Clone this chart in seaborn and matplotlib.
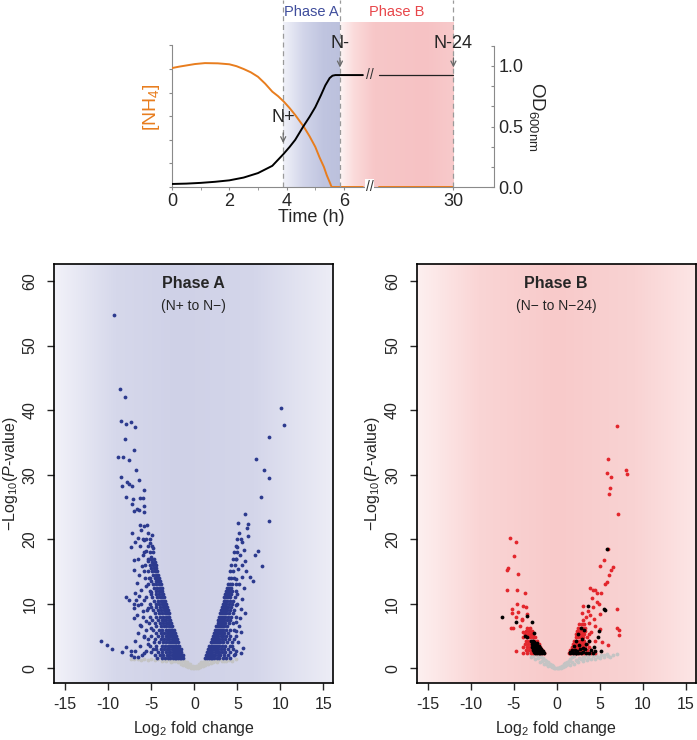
import numpy as np
import pandas as pd
import matplotlib
matplotlib.use("Agg")
import matplotlib.pyplot as plt
import seaborn as sns
from matplotlib.colors import to_rgb

sns.set_style("ticks")
plt.rcParams['font.family'] = ['Liberation Sans', 'DejaVu Sans']
plt.rcParams['mathtext.fontset'] = 'custom'
plt.rcParams['mathtext.rm'] = 'Liberation Sans'
plt.rcParams['mathtext.it'] = 'Liberation Sans:italic'
plt.rcParams['mathtext.bf'] = 'Liberation Sans:bold'
plt.rcParams['axes.unicode_minus'] = False

# ---------------- top panel data ----------------
time_nh4 = [0, 0.25, 0.5, 0.8, 1.15, 1.6, 2.0, 2.25, 2.5, 2.75, 3.0, 3.25, 3.5, 3.7, 3.9,
            4.1, 4.3, 4.45, 4.6, 4.8, 5.0, 5.15, 5.3, 5.4, 5.5, 5.57, 6.66]
nh4 = [5.04, 5.1, 5.15, 5.21, 5.25, 5.24, 5.2, 5.12, 5.0, 4.86, 4.67, 4.38, 4.04, 3.85, 3.62,
       3.35, 3.05, 2.8, 2.55, 2.15, 1.7, 1.25, 0.85, 0.5, 0.21, 0.0, 0.0]
time_nh4_late = [9.43, 30]
nh4_late = [0.0, 0.0]
time_od = [0, 0.5, 1, 1.5, 2, 2.5, 3, 3.5, 3.88, 4.1, 4.3, 4.58, 4.8, 5.0, 5.2, 5.35, 5.5, 5.6, 5.7, 6.66]
od = [0.025, 0.028, 0.034, 0.043, 0.055, 0.078, 0.115, 0.175, 0.27, 0.33, 0.39, 0.5, 0.58, 0.66,
      0.76, 0.84, 0.9, 0.92, 0.925, 0.925]
time_od_late = [9.43, 30]
od_late = [0.925, 0.925]
sample_names = ['N+', 'N-', 'N-24']
sample_times = [3.88, 5.86, 30]
time_ticks = [0, 2, 4, 6, 30]
time_minor_ticks = [1, 3, 5]
od_tick_labels = ['0.0', '', '', '0.5', '', '', '1.0', '']

# ---------------- volcano data ----------------
phaseA_left_rows = [
    (1.6, [-1.3, -1.5, -1.7, -1.9, -2.1, -2.3, -2.5, -2.8, -3.1, -3.4, -3.8, -4.3]),
    (2.0, [-1.35, -1.55, -1.75, -1.95, -2.15, -2.4, -2.6, -2.9, -3.2, -3.6, -4.0, -4.6]),
    (2.5, [-1.5, -1.7, -1.9, -2.1, -2.3, -2.5, -2.8, -3.0, -3.3, -3.7, -4.2, -5.0]),
    (3.0, [-1.6, -1.8, -2.0, -2.2, -2.4, -2.6, -2.9, -3.2, -3.5, -3.9, -4.5]),
    (3.5, [-1.75, -1.95, -2.15, -2.35, -2.6, -2.8, -3.1, -3.4, -3.8, -4.4, -5.2]),
    (4.0, [-1.9, -2.1, -2.3, -2.5, -2.7, -3.0, -3.3, -3.6, -4.1, -4.7]),
    (4.5, [-2.0, -2.2, -2.4, -2.65, -2.9, -3.2, -3.5, -3.9, -4.6, -5.4]),
    (5.0, [-2.15, -2.35, -2.55, -2.8, -3.05, -3.3, -3.7, -4.2, -5.0, -5.9]),
    (5.5, [-2.3, -2.5, -2.7, -2.95, -3.2, -3.5, -3.9, -4.5]),
    (6.0, [-2.4, -2.6, -2.85, -3.1, -3.35, -3.7, -4.1, -4.8, -5.6]),
    (6.5, [-2.55, -2.75, -3.0, -3.25, -3.5, -3.9, -4.4]),
    (7.0, [-2.7, -2.9, -3.1, -3.35, -3.65, -4.0, -4.6, -5.3]),
    (7.5, [-2.8, -3.0, -3.25, -3.5, -3.8, -4.2, -4.9]),
    (8.0, [-2.9, -3.1, -3.35, -3.6, -3.95, -4.4, -5.1, -6.0]),
    (8.5, [-3.0, -3.2, -3.45, -3.75, -4.1, -4.6]),
    (9.0, [-3.1, -3.3, -3.55, -3.85, -4.2, -4.8, -5.5]),
    (9.5, [-3.2, -3.4, -3.65, -4.0, -4.4, -5.0]),
    (10.0, [-3.3, -3.5, -3.75, -4.1, -4.5, -5.2, -6.2]),
    (10.5, [-3.4, -3.6, -3.85, -4.2, -4.7]),
    (11.0, [-3.5, -3.7, -3.95, -4.3, -4.9, -5.6]),
    (11.5, [-3.6, -3.8, -4.05, -4.4, -5.0]),
    (12.0, [-3.7, -3.9, -4.15, -4.5, -5.2]),
    (12.5, [-3.8, -4.0, -4.3, -4.7]),
    (13.0, [-3.9, -4.1, -4.4, -4.8, -5.4]),
    (13.5, [-4.0, -4.2, -4.5, -5.0]),
    (14.0, [-4.1, -4.3, -4.6, -5.1, -5.7]),
    (14.5, [-4.2, -4.45, -4.8]),
    (15.0, [-4.3, -4.55, -4.9, -5.4]),
    (15.5, [-4.4, -4.65, -5.0]),
    (16.0, [-4.5, -4.75, -5.1, -5.7]),
    (16.5, [-4.6, -4.9]),
    (17.0, [-4.65, -5.0, -5.4]),
    (18.0, [-4.8, -5.2, -5.8]),
    (19.0, [-4.95, -5.4]),
    (20.0, [-5.1, -5.6, -6.0]),
]
phaseA_right_rows = [
    (1.6, [1.3, 1.5, 1.7, 1.9, 2.1, 2.3, 2.6, 2.9, 3.3, 3.7, 4.2]),
    (2.0, [1.35, 1.55, 1.75, 1.95, 2.2, 2.45, 2.7, 3.0, 3.4, 3.9, 4.6]),
    (2.5, [1.5, 1.7, 1.9, 2.1, 2.35, 2.6, 2.9, 3.2, 3.6, 4.1]),
    (3.0, [1.6, 1.8, 2.0, 2.25, 2.5, 2.75, 3.05, 3.4, 3.9, 4.5]),
    (3.5, [1.75, 1.95, 2.15, 2.4, 2.65, 2.9, 3.2, 3.6, 4.2]),
    (4.0, [1.9, 2.1, 2.3, 2.5, 2.75, 3.0, 3.35, 3.8, 4.4]),
    (4.5, [2.0, 2.2, 2.4, 2.65, 2.9, 3.2, 3.55, 4.0]),
    (5.0, [2.15, 2.35, 2.55, 2.8, 3.05, 3.35, 3.7, 4.2, 4.9]),
    (5.5, [2.3, 2.5, 2.7, 2.95, 3.2, 3.5, 3.9]),
    (6.0, [2.4, 2.6, 2.85, 3.1, 3.35, 3.7, 4.1, 4.6]),
    (6.5, [2.55, 2.75, 3.0, 3.25, 3.5, 3.85]),
    (7.0, [2.7, 2.9, 3.1, 3.35, 3.6, 4.0, 4.5]),
    (7.5, [2.8, 3.0, 3.25, 3.5, 3.8, 4.2]),
    (8.0, [2.9, 3.1, 3.35, 3.6, 3.9, 4.3, 4.9]),
    (8.5, [3.0, 3.2, 3.45, 3.7, 4.0, 4.5]),
    (9.0, [3.1, 3.3, 3.55, 3.8, 4.1, 4.6]),
    (9.5, [3.2, 3.4, 3.65, 3.9, 4.3]),
    (10.0, [3.3, 3.5, 3.7, 4.0, 4.4, 5.0]),
    (10.5, [3.4, 3.6, 3.8, 4.1, 4.5]),
    (11.0, [3.5, 3.7, 3.9, 4.2, 4.7]),
    (11.5, [3.6, 3.8, 4.0, 4.3]),
    (12.0, [3.7, 3.9, 4.1, 4.4, 4.9]),
    (12.5, [3.8, 4.0, 4.3]),
    (13.0, [3.9, 4.1, 4.4, 4.8]),
    (14.0, [4.0, 4.3, 4.6]),
    (15.0, [4.2, 4.5]),
    (16.0, [4.3, 4.7]),
    (17.0, [4.5, 4.9]),
    (18.0, [4.6, 5.0]),
    (19.0, [4.8]),
    (20.0, [5.0, 5.4]),
]
phaseA_scatter_x = [-9.38, -8.68, -8.1, -8.5, -7.95, -7.33, -6.94, -8.02, -6.98, -8.88, -8.33, -7.64, -6.74,
                    -8.53, -6.47, -7.83, -7.6, -8.4, -7.29, -5.81, -7.95, -7.09, -6.36, -5.97, -7.2, -6.63,
                    -7.05, -6.4, -5.81, -5.89, -6.3, -5.9, -5.5, -7.2, -6.9, -7.4, -7.05, -7.0, -7.9, -7.6,
                    -6.8, -7.05, -7.05, -6.36, -10.85, -10.2, -9.6, -8.0, -8.4, -7.4, -6.9, -7.4, -7.05,
                    -6.6, -6.1, -5.8,
                    -6.2, -5.4, -4.9, -6.6, -5.8, -5.2, -6.3, -4.8, -5.6, -6.0, -5.0, -6.5, -5.4, -4.7,
                    -6.1, -5.8, -6.4, -5.3, -6.7, -5.6, -6.2, -5.0, -6.4, -5.8, -6.6, -5.4, -6.0, -6.7,
                    -5.6, -6.2, -5.0, -6.5, -5.8, -6.9, -5.4, -6.3, -4.8, -5.6, -7.0, -6.9,
                    10.1, 10.4, 8.68, 7.17, 8.06, 8.68, 7.79, 8.68, 5.85, 5.08, 6.3, 6.1, 5.15, 6.3, 7.36,
                    7.1, 7.9, 6.43, 6.8, 5.35, 4.9, 5.4, 5.7, 4.9, 5.4, 5.5, 5.0, 5.8, 5.3, 4.9, 5.9, 5.6,
                    5.1, 6.0, 5.5, 4.8, 5.2, 5.8, 5.0, 5.6, 4.9, 5.4, 5.9, 4.8, 5.2, 4.6, 5.1, 4.4, 4.7]
phaseA_scatter_y = [54.7, 43.3, 42.0, 38.3, 37.8, 38.2, 37.4, 35.6, 33.8, 32.8, 32.8, 32.2, 30.7,
                    29.6, 29.2, 28.8, 28.5, 28.2, 28.2, 27.6, 26.6, 26.3, 26.4, 26.4, 25.4, 24.7,
                    24.4, 24.6, 25.1, 24.2, 22.2, 22.1, 22.2, 20.9, 19.5, 18.8, 16.8, 15.2, 11.0, 10.6,
                    10.6, 9.3, 7.75, 6.7, 4.2, 3.6, 3.0, 3.3, 2.5, 2.7, 2.7, 2.1, 1.8,
                    1.8, 2.1, 2.3,
                    21.5, 21.0, 20.6, 20.2, 19.8, 19.4, 19.0, 18.6, 18.2, 17.6, 17.2, 17.0, 16.6, 16.2,
                    15.8, 15.0, 14.4, 14.0, 13.2, 12.8, 12.2, 11.8, 11.2, 10.6, 9.8, 9.4, 8.8, 8.2,
                    7.4, 6.6, 6.2, 5.4, 4.8, 4.2, 3.8, 3.4, 3.0, 2.6, 9.9, 11.6,
                    40.4, 37.7, 35.9, 32.5, 30.7, 29.5, 26.6, 22.8, 23.9, 22.5, 22.4, 21.8, 20.9, 20.5, 18.2,
                    17.6, 15.8, 14.1, 13.6, 7.75, 5.8, 5.6, 3.2, 2.6, 2.3, 19.6, 18.8, 18.3, 17.6, 17.0, 16.6, 16.0,
                    15.4, 15.0, 14.2, 13.8, 13.0, 12.4, 11.5, 10.8, 9.8, 9.2, 8.6, 7.2, 6.6, 4.6, 4.0, 3.4, 2.2]
phaseA_gray_x = [0, 0.15, -0.15, 0.3, -0.3, 0.45, -0.45, 0.6, -0.6, 0.75, -0.75, 0.9, -0.9, 1.05, -1.05,
                 1.2, -1.2, 1.3, -1.3, 0.4, -0.4, 0.7, -0.7, 1.0, -1.0, 1.3, -1.3, 1.6, -1.6, 1.9, -1.9,
                 2.2, -2.2, 2.5, -2.5, 2.8, -2.8, 3.1, -3.1, 1.5, -1.5, 1.8, -1.8, 2.1, -2.1, 3.4, -3.4,
                 3.7, -3.8, 4.0, -4.2, 4.4, -4.6, -5.0, -5.4, -5.8, -6.2, -6.6, -7.0, -7.4, 4.8, -0.2,
                 0.2, -0.5, 0.5, -0.8, 0.8, 1.1, -1.1, 2.6, -2.7, 3.2, -3.3]
phaseA_gray_y = [0.05, 0.1, 0.1, 0.2, 0.2, 0.35, 0.35, 0.5, 0.5, 0.65, 0.65, 0.8, 0.8, 1.0, 1.0,
                 1.2, 1.2, 1.4, 1.4, 0.05, 0.05, 0.15, 0.15, 0.3, 0.3, 0.45, 0.5, 0.6, 0.7, 0.8, 0.9,
                 1.0, 1.05, 1.15, 1.2, 1.3, 1.35, 1.4, 1.45, 1.0, 1.1, 1.25, 1.3, 1.4, 1.45, 1.2, 1.3,
                 1.1, 1.2, 1.35, 1.4, 1.2, 1.3, 1.45, 1.3, 1.4, 1.35, 1.45, 1.5, 1.45, 1.45, 0.3,
                 0.3, 0.6, 0.6, 0.95, 0.95, 0.7, 0.75, 0.9, 0.95, 1.1, 1.1]

phaseB_red_rows = [
    (2.3, [-1.5, -1.8, -2.1, -2.4, -2.7, -3.0, -3.4, -3.9, 1.4, 1.7, 2.0, 2.3, 2.6, 2.9, 3.2, 3.6, 4.0, 4.5]),
    (2.8, [-1.7, -2.0, -2.3, -2.6, -2.9, -3.2, -3.6, 1.6, 1.9, 2.2, 2.5, 2.8, 3.1, 3.5, 4.0]),
    (3.3, [-1.9, -2.2, -2.5, -2.8, -3.1, -3.5, -3.9, 1.8, 2.1, 2.4, 2.7, 3.0, 3.3, 3.8]),
    (3.8, [-2.1, -2.4, -2.7, -3.0, -3.3, -3.7, 1.9, 2.2, 2.5, 2.8, 3.1, 3.5]),
    (4.3, [-2.3, -2.6, -2.9, -3.2, -3.6, 2.0, 2.3, 2.6, 2.9, 3.2, 3.7, 4.4]),
    (4.8, [-2.5, -2.8, -3.1, -3.4, -3.9, 2.2, 2.5, 2.8, 3.1, 3.5]),
    (5.3, [-2.7, -3.0, -3.3, -3.7, 2.3, 2.6, 2.9, 3.2, 3.8]),
    (5.8, [-2.9, -3.2, -3.6, 2.4, 2.7, 3.0, 3.3]),
    (6.3, [-3.1, -3.5, 2.5, 2.8, 3.1]),
    (6.8, [2.6, 2.9, 3.2]),
]
phaseB_red_scatter_x = [-5.42, -4.76, -4.92, -5.65, -5.73, -4.49, -5.81, -4.65, -3.72, -4.65, -5.19, -3.91,
                        -3.6, -5.15, -4.72, -4.07, -5.1, -4.3, -4.72, -4.45, -3.45, -4.0, -5.35, -3.9,
                        3.0, 3.4, 2.9, 3.9, 4.3, 3.1, 3.6, 4.1, 4.65, 4.9, 3.9, 4.2, 4.45, 4.65, 5.2, 5.9,
                        5.6, 6.1, 6.6, 6.3, 5.03, 5.54, 6.97, 6.97, 7.2, 7.28, 6.0, 5.3, 5.0, 4.4, 4.0,
                        7.08, 6.08, 6.19, 6.27, 5.88, 6.0, 8.05, 8.17, 6.97, 3.3, 3.7, 4.2, 5.0, 5.95]
phaseB_red_scatter_y = [20.2, 19.5, 17.4, 15.5, 15.2, 14.6, 12.2, 12.2, 11.6, 10.0, 9.25, 9.66,
                        9.5, 8.6, 7.9, 7.6, 6.3, 6.6, 2.7, 8.7, 8.4, 7.5, 6.25, 5.6,
                        7.5, 8.0, 8.5, 8.2, 7.7, 9.7, 8.9, 10.9, 10.3, 10.0, 12.4, 12.1, 12.2, 11.7, 11.6, 13.3,
                        13.1, 14.4, 15.7, 15.2, 15.9, 16.8, 9.25, 6.3, 5.9, 5.2, 3.6, 4.1, 6.1, 6.6, 5.6,
                        23.9, 27.0, 28.0, 29.6, 30.3, 32.5, 30.7, 30.1, 37.6, 6.3, 7.0, 9.5, 8.4, 18.55]
phaseB_black_x = [-1.5, -1.7, -1.9, -2.1, -2.3, -2.5, -1.7, -1.9, -2.1, -2.3, -2.5, -2.7, -1.9, -2.1,
                  -2.3, -2.5, -2.7, -2.9, -2.1, -2.3, -2.5, -2.7, -2.9, -2.3, -2.6, -2.8, -3.0, -3.7,
                  -3.5, -2.6, -2.9, -3.5, -4.72, -6.35, -2.0, -2.2, -2.4, -2.6, -1.6, -1.8,
                  5.88, 5.6, 5.5, 3.6, 4.96, 4.76, 3.2, 1.6, 1.9, 2.2, 2.5, 2.8, 3.1, 3.4, 3.8, 4.2,
                  4.5, 5.2, 1.8, 2.1, 2.4, 2.7, 3.0, 3.3, 2.0, 2.6, 3.4, 2.2, 2.9, 3.7, 2.5, 2.8, 4.3,
                  4.0, 1.5, 2.3]
phaseB_black_y = [2.3, 2.3, 2.3, 2.3, 2.3, 2.4, 2.7, 2.7, 2.7, 2.7, 2.8, 2.8, 3.1, 3.1,
                  3.1, 3.2, 3.2, 3.3, 3.5, 3.5, 3.6, 3.7, 3.8, 3.9, 4.0, 4.2, 4.3, 5.0,
                  4.9, 5.5, 7.1, 8.1, 7.2, 7.9, 2.5, 2.9, 3.4, 2.5, 2.6, 3.0,
                  18.5, 9.0, 9.2, 9.7, 5.8, 4.9, 6.0, 2.3, 2.3, 2.4, 2.3, 2.4, 2.5, 2.3, 2.4, 2.4,
                  2.6, 2.6, 2.8, 2.9, 2.7, 3.0, 3.2, 3.0, 3.4, 3.6, 3.8, 4.3, 4.5, 4.2, 5.3, 6.2, 3.3,
                  2.8, 2.5, 2.3]
phaseB_gray_x = [0, 0.2, -0.2, 0.4, -0.4, 0.6, -0.6, 0.8, -0.8, 1.0, -1.0, 1.2, -1.2, 1.4, -1.4, 1.6,
                 -1.6, 1.8, -1.8, 2.0, -2.0, -2.3, -2.6, -2.9, -3.2, 0.5, -0.5, 1.0, -1.0, 1.5, -1.5,
                 2.0, -2.0, 2.5, -2.5, 3.0, -3.0, 3.5, 4.0, 4.5, 5.0, 5.5, 6.0, 6.5, 7.0, 2.2, 2.6,
                 3.0, 3.4, 3.8, 4.2, 4.6, 5.2, 5.8, 6.2, 1.3, 1.8, 2.8, 3.2, 4.8, 5.5, -1.2, -1.7,
                 -2.2, -2.7, 0.3, -0.3, 0.7, -0.7, 1.1, 2.4, 3.6]
phaseB_gray_y = [0.05, 0.1, 0.1, 0.25, 0.3, 0.4, 0.5, 0.6, 0.7, 0.8, 0.9, 1.0, 1.1, 1.2, 1.35, 1.45,
                 1.55, 1.7, 1.8, 1.9, 2.0, 2.1, 2.2, 2.2, 2.3, 0.1, 0.15, 0.3, 0.4, 0.5, 0.7,
                 0.7, 1.0, 0.9, 1.4, 1.1, 1.7, 1.3, 1.4, 1.5, 1.6, 1.7, 1.9, 2.0, 2.2, 1.3, 1.6,
                 1.8, 2.0, 2.1, 1.9, 2.0, 2.1, 2.2, 1.7, 0.6, 1.0, 1.4, 1.6, 1.8, 2.0, 0.6, 1.2,
                 1.6, 1.9, 0.0, 0.0, 0.2, 0.3, 0.45, 1.1, 1.6]

x_ticks = [-15, -10, -5, 0, 5, 10, 15]
y_ticks = [0, 10, 20, 30, 40, 50, 60]

# ---------------- helpers ----------------
W, H = 697, 740
BRK, K = 6.9, 0.1264


def fwd(t):
    t = np.asarray(t, dtype=float)
    return np.where(t <= BRK, t, BRK + (t - BRK) * K)


def inv(u):
    u = np.asarray(u, dtype=float)
    return np.where(u <= BRK, u, BRK + (u - BRK) / K)


def rows_to_df(rows):
    xs, ys = [], []
    for y, row in rows:
        xs += row
        ys += [y] * len(row)
    return pd.DataFrame({'x': xs, 'y': ys})


def gradient(stops, n=400):
    pos = [p for p, _ in stops]
    rgb = np.array([to_rgb(c) for _, c in stops])
    s = np.linspace(0, 1, n)
    return np.stack([np.interp(s, pos, rgb[:, i]) for i in range(3)], axis=-1)[None, :, :]


def frect(l, t, r, b):
    return [l / W, 1 - b / H, (r - l) / W, (b - t) / H]


fig = plt.figure(figsize=(W / 100, H / 100), dpi=100)

# ---------------- top panel ----------------
rect_top = frect(172, 0, 494, 187)
TMAX = 41.2
OD_TOP = 187 / 121.0
NH_TOP = 187 / 23.6
AXIS_GRAY = '#8a8a8a'

bg = fig.add_axes(rect_top)
bg.set_zorder(0)
bg.axis('off')
shade_top = 165 / 121.0
bg.imshow(gradient([(0, '#f1f2f9'), (0.35, '#d3d6ea'), (0.7, '#c0c5e0'), (1, '#bcc1dd')]),
          extent=(float(fwd(sample_times[0])), float(fwd(sample_times[1])), 0, shade_top),
          aspect='auto', interpolation='bilinear')
bg.imshow(gradient([(0, '#fdf5f5'), (0.12, '#fbdbdb'), (0.3, '#f7c7c8'), (0.75, '#f6c2c4'), (1, '#f8cacb')]),
          extent=(float(fwd(sample_times[1])), float(fwd(sample_times[2])), 0, shade_top),
          aspect='auto', interpolation='bilinear')
bg.set_xlim(0, float(fwd(TMAX)))
bg.set_ylim(0, OD_TOP)

ax_nh = fig.add_axes(rect_top)
ax_nh.set_xscale('function', functions=(fwd, inv))
ax_nh.set_zorder(1)
ax_nh.patch.set_visible(False)
ax_od = ax_nh.twinx()
ax_od.set_zorder(2)
ax_od.patch.set_visible(False)

orange = '#e87d1e'
sns.lineplot(x=time_nh4, y=nh4, ax=ax_nh, color=orange, lw=1.4, sort=False, estimator=None, zorder=3)
sns.lineplot(x=time_nh4_late, y=nh4_late, ax=ax_nh, color=orange, lw=1.4, sort=False, estimator=None, zorder=3)
sns.lineplot(x=time_od, y=od, ax=ax_od, color='black', lw=1.4, sort=False, estimator=None, zorder=3)
sns.lineplot(x=time_od_late, y=od_late, ax=ax_od, color='#222222', lw=0.9, sort=False, estimator=None, zorder=3)

for t in sample_times:
    ax_od.axvline(t, color='#9a9a9a', lw=0.9, ls=(0, (4, 3)), zorder=1)

ax_nh.set_xlim(0, TMAX)
ax_nh.set_ylim(0, NH_TOP)
ax_od.set_ylim(0, OD_TOP)
for a in (ax_nh, ax_od):
    a.spines['top'].set_visible(False)
    a.set_xlabel('')
    a.set_ylabel('')
ax_od.spines['bottom'].set_visible(False)
ax_nh.spines['bottom'].set_color(AXIS_GRAY)
ax_nh.spines['bottom'].set_linewidth(0.8)
ax_nh.spines['right'].set_visible(False)
ax_od.spines['left'].set_visible(False)
ax_nh.spines['left'].set_bounds(0, 6)
ax_nh.spines['left'].set_color(AXIS_GRAY)
ax_nh.spines['left'].set_linewidth(0.8)
ax_od.spines['right'].set_bounds(0, 7 / 6)
ax_od.spines['right'].set_color(AXIS_GRAY)
ax_od.spines['right'].set_linewidth(0.8)
ax_nh.set_yticks(range(0, 7))
ax_nh.set_yticklabels([])
ax_nh.tick_params(axis='y', length=2.5, color=AXIS_GRAY, direction='out')
ax_od.set_yticks([k / 6 for k in range(0, 8)])
ax_od.set_yticklabels(od_tick_labels)
ax_od.tick_params(axis='y', length=2.5, color=AXIS_GRAY, direction='in', labelsize=13, pad=3)
ax_nh.set_xticks(time_ticks)
ax_nh.set_xticklabels([str(t) for t in time_ticks])
ax_nh.set_xticks(time_minor_ticks, minor=True)
ax_nh.tick_params(axis='x', which='both', length=2.5, color=AXIS_GRAY, labelsize=13, pad=1.5,
                  direction='out')
ax_nh.set_xlim(0, TMAX)

# break marks
ax_od.text(BRK, od_late[0], '//', ha='center', va='center', fontsize=10, color='#333333')
ax_od.text(BRK, 0.0, '//', ha='center', va='center', fontsize=10, color='#333333',
           bbox=dict(facecolor='white', edgecolor='none', pad=0.5))

# sample arrows / labels
arrow_kw = dict(arrowstyle='->', color='#6a6a6a', lw=0.9, mutation_scale=9)
ax_od.annotate('', xy=(sample_times[0], 0.34), xytext=(sample_times[0], 0.47), arrowprops=arrow_kw)
ax_od.text(sample_times[0], 0.575, sample_names[0], ha='center', va='center', fontsize=13)
for nm, t in zip(sample_names[1:], sample_times[1:]):
    ax_od.annotate('', xy=(t, 0.965), xytext=(t, 1.09), arrowprops=arrow_kw)
    ax_od.text(t, 1.19, nm, ha='center', va='center', fontsize=13)

fig.text(311.7 / W, 1 - 12 / H, 'Phase A', ha='center', va='center', fontsize=10.5, color='#3f4d9c')
fig.text(397 / W, 1 - 12 / H, 'Phase B', ha='center', va='center', fontsize=10.5, color='#e8464a')
fig.text(311 / W, 1 - 218 / H, 'Time (h)', ha='center', va='center', fontsize=13)
fig.text(152 / W, 1 - 107 / H, '[NH$_4$]', ha='center', va='center', fontsize=14, color=orange,
         rotation=90)
fig.text(537 / W, 1 - 117 / H, 'OD$_{600\\mathrm{nm}}$', ha='center', va='center', fontsize=13.5,
         rotation=270)

# ---------------- volcano panels ----------------
XL = (-16.28, 16.16)
YL = (-2.33, 62.6)


def style_volcano(ax, stops, title, subtitle):
    ax.imshow(gradient(stops), extent=(XL[0], XL[1], YL[0], YL[1]), aspect='auto',
              interpolation='bilinear', zorder=0)
    ax.set_xlim(*XL)
    ax.set_ylim(*YL)
    ax.set_xticks(x_ticks)
    ax.set_xticklabels([str(v) for v in x_ticks])
    ax.set_yticks(y_ticks)
    ax.set_yticklabels([str(v) for v in y_ticks], rotation=90, va='center')
    ax.tick_params(axis='x', length=5, width=1, labelsize=11.5, pad=5, direction='out')
    ax.tick_params(axis='y', length=5, width=1, labelsize=11.5, pad=7, direction='out')
    for s in ax.spines.values():
        s.set_visible(True)
        s.set_linewidth(1.2)
        s.set_color('black')
    ax.set_xlabel('Log$_2$ fold change', fontsize=11.5, labelpad=5)
    ax.set_ylabel('\u2212Log$_{10}$($P$-value)', fontsize=11.5, labelpad=2)
    ax.text(0.5, 0.955, title, transform=ax.transAxes, ha='center', va='center',
            fontsize=11.5, fontweight='bold')
    ax.text(0.5, 0.9, subtitle, transform=ax.transAxes, ha='center', va='center', fontsize=10)


ax1 = fig.add_axes(frect(54.3, 264.3, 333.3, 683.3))
ax2 = fig.add_axes(frect(416.7, 264.3, 695.7, 683.3))

PT = 7.5
navy = '#2c3a8e'
red = '#e3262c'
gray = '#c4c4c4'

sns.scatterplot(x=phaseA_gray_x, y=phaseA_gray_y, ax=ax1, color=gray, s=PT, linewidth=0, zorder=2)
sns.scatterplot(data=rows_to_df(phaseA_left_rows), x='x', y='y', ax=ax1, color=navy, s=PT, linewidth=0, zorder=3)
sns.scatterplot(data=rows_to_df(phaseA_right_rows), x='x', y='y', ax=ax1, color=navy, s=PT, linewidth=0, zorder=3)
sns.scatterplot(x=phaseA_scatter_x, y=phaseA_scatter_y, ax=ax1, color=navy, s=PT, linewidth=0, zorder=3)
style_volcano(ax1, [(0, '#f2f2f9'), (0.22, '#d6d8eb'), (0.45, '#cfd1e7'), (0.72, '#d4d6ea'), (1, '#ededf6')],
              'Phase A', '(N+ to N\u2212)')

sns.scatterplot(x=phaseB_gray_x, y=phaseB_gray_y, ax=ax2, color=gray, s=PT, linewidth=0, zorder=2)
sns.scatterplot(data=rows_to_df(phaseB_red_rows), x='x', y='y', ax=ax2, color=red, s=PT, linewidth=0, zorder=3)
sns.scatterplot(x=phaseB_red_scatter_x, y=phaseB_red_scatter_y, ax=ax2, color=red, s=PT, linewidth=0, zorder=3)
sns.scatterplot(x=phaseB_black_x, y=phaseB_black_y, ax=ax2, color='black', s=PT, linewidth=0, zorder=4)
style_volcano(ax2, [(0, '#fdf0f0'), (0.22, '#fad5d5'), (0.5, '#f8caca'), (0.78, '#f9d3d3'), (1, '#fde6e6')],
              'Phase B', '(N\u2212 to N\u221224)')

fig.savefig('out.png', dpi=100)
